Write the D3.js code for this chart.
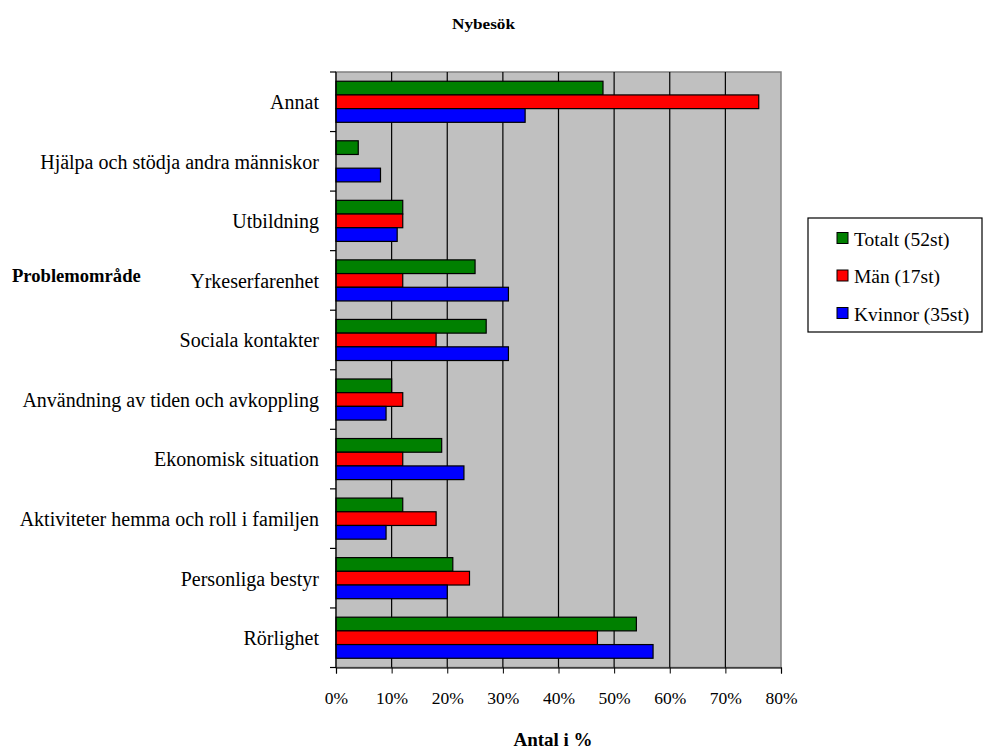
<!DOCTYPE html>
<html>
<head>
<meta charset="utf-8">
<script src="https://cdn.jsdelivr.net/npm/d3@7"></script>
<style>
  html, body { margin: 0; padding: 0; background: #fff; }
</style>
</head>
<body>
<svg id="chart" width="984" height="751"></svg>
<script>
// Problem areas, top to bottom
const categories = [
  "Annat",
  "Hjälpa och stödja andra människor",
  "Utbildning",
  "Yrkeserfarenhet",
  "Sociala kontakter",
  "Användning av tiden och avkoppling",
  "Ekonomisk situation",
  "Aktiviteter hemma och roll i familjen",
  "Personliga bestyr",
  "Rörlighet"
];

const seriesNames = ["Totalt (52st)", "Män (17st)", "Kvinnor (35st)"];
const seriesColors = ["#008000", "#ff0000", "#0000ff"];

// Share (%) per problem area
const totalt  = [48, 4, 12, 25, 27, 10, 19, 12, 21, 54];
const man     = [76, 0, 12, 12, 18, 12, 12, 18, 24, 47];
const kvinnor = [34, 8, 11, 31, 31, 9, 23, 9, 20, 57];

const xTicks = [0, 10, 20, 30, 40, 50, 60, 70, 80];

const seriesValues = [totalt, man, kvinnor];
const FONT = "\"Liberation Serif\"";

const svg = d3.select("#chart").style("font-family", FONT);
const plot = { left: 336, right: 781, top: 72, bottom: 667.5 };

const x = d3.scaleLinear().domain([0, 80]).range([plot.left, plot.right]);
const y = d3.scaleBand().domain(categories).range([plot.top, plot.bottom]).paddingInner(0.31).paddingOuter(0.155);
const ySub = d3.scaleBand().domain(d3.range(seriesNames.length)).range([0, y.bandwidth()]);

// Plot background
svg.append("rect")
  .attr("x", plot.left).attr("y", plot.top)
  .attr("width", plot.right - plot.left).attr("height", plot.bottom - plot.top)
  .attr("fill", "#c0c0c0")
  .attr("stroke", "#808080").attr("stroke-width", 1.5);

// Vertical gridlines
svg.append("g")
  .selectAll("line")
  .data(xTicks.slice(1, -1))
  .join("line")
  .attr("x1", d => x(d)).attr("x2", d => x(d))
  .attr("y1", plot.top).attr("y2", plot.bottom)
  .attr("stroke", "#000").attr("stroke-width", 1.2);

// Bars
const rows = categories.map((c, i) => ({ c, vals: seriesValues.map(s => s[i]) }));
const groups = svg.append("g").selectAll("g")
  .data(rows)
  .join("g")
  .attr("transform", d => `translate(0,${y(d.c)})`);

groups.selectAll("rect")
  .data(d => d.vals.map((v, k) => ({ v, k })).filter(e => e.v > 0))
  .join("rect")
  .attr("x", x(0))
  .attr("y", d => ySub(d.k))
  .attr("width", d => x(d.v) - x(0))
  .attr("height", ySub.bandwidth())
  .attr("fill", d => seriesColors[d.k])
  .attr("stroke", "#000").attr("stroke-width", 1.2);

// Bottom axis
const xAxis = d3.axisBottom(x).tickValues(xTicks).tickFormat(d => d + "%").tickSize(6).tickPadding(18);
const gx = svg.append("g").attr("transform", `translate(0,${plot.bottom})`).call(xAxis);
gx.attr("font-family", null).attr("font-size", null);
gx.select(".domain").attr("stroke", "#000").attr("stroke-width", 1.2);
gx.selectAll(".tick line").attr("stroke", "#000");
gx.selectAll("text").attr("fill", "#000").style("font-family", FONT).style("font-size", "17.5px");

// Left axis with ticks at the category boundaries
const step = (plot.bottom - plot.top) / categories.length;
const boundaries = d3.range(categories.length + 1).map(i => plot.top + i * step);
svg.append("line")
  .attr("x1", plot.left).attr("x2", plot.left)
  .attr("y1", plot.top).attr("y2", plot.bottom)
  .attr("stroke", "#000").attr("stroke-width", 1.2);
svg.append("g").selectAll("line")
  .data(boundaries)
  .join("line")
  .attr("x1", plot.left - 6).attr("x2", plot.left)
  .attr("y1", d => d).attr("y2", d => d)
  .attr("stroke", "#000").attr("stroke-width", 1.2);

svg.append("g").selectAll("text")
  .data(categories)
  .join("text")
  .attr("x", 319)
  .attr("y", d => y(d) + y.bandwidth() / 2)
  .attr("dy", "0.37em")
  .attr("text-anchor", "end")
  .style("font-family", FONT)
  .style("font-size", "20px")
  .attr("fill", "#000")
  .text(d => d);

// Titles
svg.append("text")
  .attr("x", 452).attr("y", 29)
  .attr("textLength", 63).attr("lengthAdjust", "spacingAndGlyphs")
  .style("font-family", FONT)
  .style("font-size", "15px").style("font-weight", "bold")
  .text("Nybesök");

svg.append("text")
  .attr("x", 553).attr("y", 746)
  .attr("text-anchor", "middle")
  .style("font-family", FONT)
  .style("font-size", "19px").style("font-weight", "bold")
  .text("Antal i %");

svg.append("text")
  .attr("x", 12).attr("y", 282)
  .style("font-family", FONT)
  .style("font-size", "18.6px").style("font-weight", "bold")
  .text("Problemområde");

// Legend
const legend = svg.append("g");
legend.append("rect")
  .attr("x", 808).attr("y", 218)
  .attr("width", 174).attr("height", 114)
  .attr("fill", "#fff").attr("stroke", "#000").attr("stroke-width", 1.2);

const items = legend.selectAll("g.item")
  .data(seriesNames)
  .join("g")
  .attr("class", "item")
  .attr("transform", (d, i) => `translate(837,${238 + i * 37.5})`);
items.append("rect")
  .attr("x", 0).attr("y", -5.5)
  .attr("width", 11).attr("height", 11)
  .attr("fill", (d, i) => seriesColors[i])
  .attr("stroke", "#000").attr("stroke-width", 1);
items.append("text")
  .attr("x", 17).attr("y", 1).attr("dy", "0.35em")
  .style("font-family", FONT)
  .style("font-size", "19.5px")
  .text(d => d);
</script>
</body>
</html>
